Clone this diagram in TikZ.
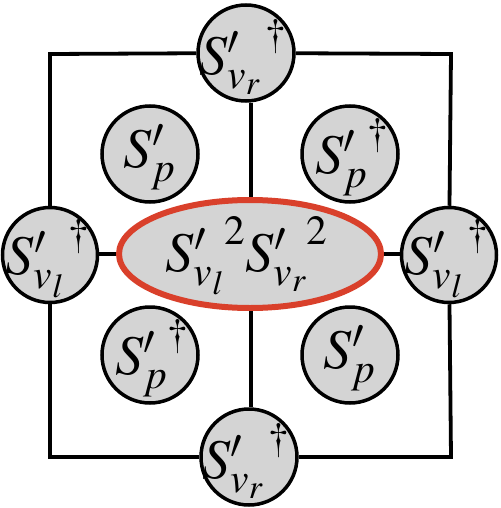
\documentclass[tikz,border=0pt]{standalone}
\usepackage{mathptmx}
\usetikzlibrary{shapes.geometric}
\tikzset{
  circ/.style={circle, draw=black, line width=3.5pt, fill=black!17, minimum size=96pt, inner sep=0pt},
  lbl/.style={inner sep=0pt, font=\fontsize{56}{56}\selectfont},
  conn/.style={draw=black, line width=3.8pt},
}
\definecolor{hlred}{RGB}{217,64,43}
\begin{document}
\begin{tikzpicture}[x=1pt,y=-1pt]
\useasboundingbox (0,0) rectangle (500,508);
\coordinate (tl) at (50,54);
\coordinate (tr) at (451,54);
\coordinate (bl) at (50,457);
\coordinate (br) at (451,457);
\node[circ] (top) at (246,53) {};
\node[circ] (bot) at (249,457) {};
\node[circ, minimum size=95pt] (lft) at (50,255) {};
\node[circ, minimum size=95pt] (rgt) at (449,255) {};
\node[circ] (p1) at (150,154) {};
\node[circ] (p2) at (350,154) {};
\node[circ] (p3) at (150,355) {};
\node[circ] (p4) at (350,355) {};
\draw[conn] (top) -- (tl) -- (lft);
\draw[conn] (top) -- (tr) -- (rgt);
\draw[conn] (bot) -- (bl) -- (lft);
\draw[conn] (bot) -- (br) -- (rgt);
\node[ellipse, draw=hlred, line width=6pt, fill=black!17, minimum width=262pt, minimum height=108pt, inner sep=0pt] (ell) at (250,254) {};
\draw[conn] (251,103) -- (ell.north -| 251,0);
\draw[conn] (ell.south -| 251,0) -- (251,407);
\draw[conn] (lft.east |- 0,254) -- (ell.west);
\draw[conn] (ell.east) -- (rgt.west |- 0,254);
\node[lbl] (ttop) at ([xshift=-3pt,yshift=-4pt]top) {${S'_{v_r}}^{\,\dagger}$};
\node[lbl] (tbot) at ([xshift=-3pt,yshift=-4pt]bot) {${S'_{v_r}}^{\,\dagger}$};
\node[lbl] (tlft) at ([xshift=-2pt,yshift=-4pt]lft) {${S'_{v_l}}^{\,\dagger}$};
\node[lbl] (trgt) at ([xshift=-2pt,yshift=-4pt]rgt) {${S'_{v_l}}^{\,\dagger}$};
\node[lbl] (tp1) at ([xshift=0pt,yshift=-3pt]p1) {$S'_p$};
\node[lbl] (tp2) at ([xshift=2pt,yshift=-3pt]p2) {${S'_p}^{\dagger}$};
\node[lbl] (tp3) at ([xshift=2pt,yshift=-3pt]p3) {${S'_p}^{\dagger}$};
\node[lbl] (tp4) at ([xshift=0pt,yshift=-3pt]p4) {$S'_p$};
\node[lbl] (tell) at ([xshift=-3pt,yshift=-2pt]ell) {${S'_{v_l}}^{2}{S'_{v_r}}^{2}$};
\end{tikzpicture}
\end{document}
